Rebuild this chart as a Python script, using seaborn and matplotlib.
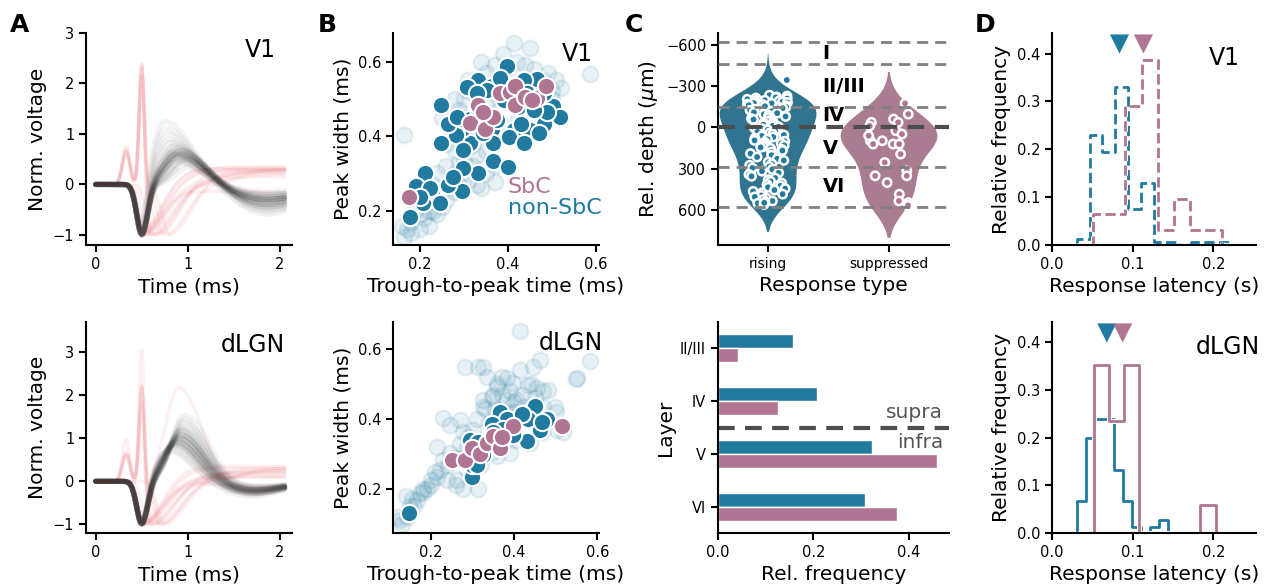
import numpy as np
import pandas as pd
import matplotlib
matplotlib.use("Agg")
import matplotlib.pyplot as plt
import matplotlib.patheffects as pe
import seaborn as sns

# ---------------------------------------------------------------- data
BLUE = "#217aa0"
PINK = "#b07592"

# waveform parameters (per unit): regular-spiking units
v1_gray_peak = [0.48, 0.52, 0.55, 0.58, 0.60, 0.62, 0.64, 0.66, 0.68, 0.70, 0.74, 0.78, 0.84, 0.90, 1.00,
                1.10, 0.45, 0.50, 0.57, 0.65, 0.72, 0.56, 0.61, 0.63, 0.69, 0.76, 1.25, 0.40, 0.54, 0.62]
v1_gray_tpk = [0.88, 0.85, 0.90, 0.86, 0.92, 0.87, 0.95, 0.84, 0.90, 0.93, 0.88, 0.86, 0.82, 0.80, 0.78,
               0.76, 0.98, 0.95, 0.90, 0.85, 0.89, 1.00, 0.87, 0.93, 0.91, 0.84, 0.75, 1.02, 0.97, 0.88]
v1_gray_late = [0.35, 0.30, 0.40, 0.25, 0.45, 0.30, 0.50, 0.20, 0.35, 0.40, 0.30, 0.25, 0.20, 0.30, 0.25,
                0.15, 0.55, 0.45, 0.35, 0.30, 0.40, 0.50, 0.30, 0.35, 0.40, 0.25, 0.20, 0.60, 0.45, 0.30]

dlgn_gray_peak = [0.80, 0.85, 0.92, 1.00, 1.08, 1.18, 1.30, 0.96, 1.04, 1.12, 0.88, 1.22, 0.92, 1.00, 1.08,
                  0.75, 1.38, 1.55, 1.20, 1.04, 0.84, 0.96, 1.12, 0.70, 1.45, 0.92, 1.00, 0.88, 1.10, 1.25]
dlgn_gray_tpk = [0.82, 0.85, 0.88, 0.90, 0.92, 0.93, 0.95, 0.87, 0.90, 0.92, 0.86, 0.94, 0.88, 0.91, 0.93,
                 0.80, 0.96, 0.97, 0.92, 0.89, 0.84, 0.88, 0.91, 0.80, 0.95, 0.87, 0.90, 0.86, 0.92, 0.94]
dlgn_gray_late = [0.20, 0.25, 0.22, 0.18, 0.25, 0.20, 0.15, 0.28, 0.22, 0.20, 0.30, 0.18, 0.25, 0.20, 0.22,
                  0.30, 0.15, 0.12, 0.20, 0.25, 0.28, 0.22, 0.18, 0.35, 0.15, 0.25, 0.22, 0.28, 0.20, 0.18]

# atypical units: spike amplitude, dip time, late plateau, plateau rise time
v1_red_spike = [2.7, 2.2, 2.4, 2.5, 2.3, 0.0, 0.0, 0.0, 0.0, 0.0, 0.0, 0.0, 0.0]
v1_red_dip = [0.62, 0.70, 0.75, 0.65, 0.80, 0.50, 0.50, 0.50, 0.52, 0.50, 0.55, 0.50, 0.60]
v1_red_plateau = [0.25, 0.30, 0.20, 0.15, 0.30, 0.32, 0.25, 0.35, 0.22, 0.30, 0.28, -0.15, 0.30]
v1_red_rise = [1.30, 1.00, 1.50, 1.10, 1.20, 0.72, 0.85, 1.00, 1.20, 0.70, 1.40, 0.95, 1.55]

dlgn_red_spike = [3.5, 2.4, 2.2, 2.3, 2.2, 0.0, 0.0, 0.0, 0.0, 0.0, 0.0, 0.0]
dlgn_red_dip = [0.60, 0.65, 0.70, 0.60, 0.75, 0.50, 0.50, 0.50, 0.50, 0.55, 0.52, 0.70]
dlgn_red_plateau = [0.10, 0.20, 0.30, 0.25, 0.15, 0.30, 0.20, 0.35, 0.25, 0.10, -0.10, 0.30]
dlgn_red_rise = [1.20, 1.00, 1.30, 1.50, 1.10, 0.90, 1.10, 0.80, 1.30, 1.00, 1.20, 1.60]
dlgn_red_broad_peak = [2.2]

# B: trough-to-peak time vs peak width (ms)
v1_all_x = [0.163, 0.414, 0.451, 0.586, 0.16, 0.17, 0.165, 0.18, 0.19, 0.20, 0.21, 0.22, 0.215, 0.23, 0.24,
            0.25, 0.26, 0.27, 0.28, 0.29, 0.30, 0.31, 0.32, 0.33, 0.35, 0.371, 0.26, 0.28, 0.27, 0.29,
            0.30, 0.31, 0.33, 0.34, 0.35, 0.37, 0.42, 0.44, 0.46, 0.48, 0.50, 0.50, 0.48, 0.45, 0.42,
            0.38, 0.36, 0.32, 0.30, 0.31, 0.33, 0.29, 0.24, 0.23, 0.39, 0.40, 0.36, 0.26, 0.25, 0.30,
            0.22, 0.20, 0.18, 0.24, 0.26, 0.28, 0.30, 0.32, 0.34, 0.36, 0.38, 0.40, 0.42, 0.44, 0.46,
            0.47, 0.49, 0.51, 0.52, 0.31, 0.28, 0.27, 0.35, 0.37, 0.34]
v1_all_y = [0.403, 0.651, 0.636, 0.567, 0.16, 0.15, 0.13, 0.17, 0.20, 0.19, 0.18, 0.20, 0.24, 0.20, 0.19,
            0.21, 0.23, 0.28, 0.25, 0.27, 0.30, 0.28, 0.32, 0.27, 0.30, 0.278, 0.32, 0.36, 0.43, 0.47,
            0.50, 0.52, 0.53, 0.60, 0.57, 0.59, 0.60, 0.59, 0.58, 0.55, 0.52, 0.50, 0.48, 0.42, 0.44,
            0.44, 0.40, 0.43, 0.40, 0.37, 0.35, 0.33, 0.30, 0.27, 0.62, 0.58, 0.50, 0.38, 0.45, 0.45,
            0.16, 0.15, 0.14, 0.22, 0.26, 0.30, 0.33, 0.38, 0.42, 0.46, 0.50, 0.52, 0.50, 0.52, 0.54,
            0.50, 0.57, 0.55, 0.53, 0.55, 0.50, 0.41, 0.36, 0.32, 0.26]
v1_nonsbc_x = [0.247, 0.399, 0.332, 0.365, 0.466, 0.436, 0.503, 0.519, 0.481, 0.451, 0.415, 0.364, 0.366,
               0.314, 0.296, 0.281, 0.247, 0.265, 0.313, 0.329, 0.366, 0.400, 0.332, 0.297, 0.296, 0.263,
               0.211, 0.192, 0.177, 0.229, 0.245, 0.208, 0.276, 0.402, 0.436, 0.470, 0.489, 0.422, 0.392,
               0.444, 0.383, 0.352, 0.306, 0.329, 0.376, 0.429, 0.459, 0.344, 0.299, 0.223, 0.200, 0.481,
               0.414, 0.284]
v1_nonsbc_y = [0.484, 0.588, 0.551, 0.535, 0.553, 0.551, 0.482, 0.451, 0.434, 0.417, 0.417, 0.420, 0.381,
               0.383, 0.420, 0.402, 0.383, 0.434, 0.445, 0.479, 0.333, 0.318, 0.302, 0.316, 0.254, 0.269,
               0.301, 0.266, 0.184, 0.238, 0.220, 0.220, 0.291, 0.399, 0.381, 0.408, 0.466, 0.479, 0.497,
               0.515, 0.555, 0.524, 0.533, 0.515, 0.443, 0.434, 0.470, 0.408, 0.363, 0.260, 0.238, 0.515,
               0.533, 0.452]
v1_sbc_x = [0.175, 0.332, 0.314, 0.348, 0.366, 0.344, 0.382, 0.404, 0.417, 0.417, 0.440, 0.466, 0.487, 0.455]
v1_sbc_y = [0.236, 0.485, 0.436, 0.419, 0.452, 0.466, 0.517, 0.519, 0.535, 0.484, 0.506, 0.502, 0.535, 0.497]

dlgn_all_x = [0.414, 0.582, 0.548, 0.282, 0.314, 0.326, 0.382, 0.414, 0.446, 0.462, 0.398, 0.434, 0.454,
              0.482, 0.358, 0.326, 0.346, 0.326, 0.230, 0.246, 0.214, 0.246, 0.230, 0.222, 0.214, 0.190,
              0.174, 0.166, 0.150, 0.142, 0.130, 0.278, 0.314, 0.286, 0.310, 0.278, 0.270, 0.302, 0.422,
              0.470, 0.498, 0.502, 0.518, 0.550, 0.466, 0.438, 0.402, 0.390, 0.346, 0.358, 0.374, 0.390,
              0.406, 0.382, 0.354, 0.286, 0.262, 0.238, 0.334, 0.370, 0.180, 0.200, 0.155, 0.125,
              0.200, 0.210, 0.240, 0.260, 0.270, 0.290, 0.310, 0.330, 0.350, 0.360, 0.370, 0.390, 0.400,
              0.420, 0.440, 0.450, 0.470, 0.500, 0.440, 0.380, 0.340, 0.260, 0.320, 0.180, 0.160, 0.120,
              0.140, 0.400]
dlgn_all_y = [0.652, 0.567, 0.516, 0.550, 0.550, 0.550, 0.517, 0.541, 0.550, 0.569, 0.503, 0.498, 0.488,
              0.483, 0.493, 0.455, 0.464, 0.436, 0.402, 0.383, 0.321, 0.302, 0.283, 0.254, 0.235, 0.200,
              0.188, 0.169, 0.150, 0.121, 0.100, 0.200, 0.200, 0.254, 0.302, 0.364, 0.397, 0.369, 0.436,
              0.436, 0.436, 0.369, 0.364, 0.517, 0.364, 0.331, 0.340, 0.302, 0.307, 0.293, 0.398, 0.379,
              0.455, 0.455, 0.426, 0.321, 0.226, 0.226, 0.520, 0.470, 0.200, 0.225, 0.170, 0.110,
              0.210, 0.250, 0.270, 0.290, 0.330, 0.350, 0.400, 0.430, 0.470, 0.500, 0.520, 0.480, 0.450,
              0.470, 0.500, 0.460, 0.480, 0.420, 0.410, 0.420, 0.390, 0.210, 0.270, 0.190, 0.150, 0.120,
              0.180, 0.420]
dlgn_nonsbc_x = [0.148, 0.299, 0.450, 0.480, 0.462, 0.430, 0.434, 0.366, 0.384, 0.346, 0.398, 0.374, 0.294,
                 0.314, 0.302, 0.326, 0.282, 0.298, 0.418, 0.466, 0.350, 0.310]
dlgn_nonsbc_y = [0.132, 0.234, 0.438, 0.399, 0.368, 0.337, 0.401, 0.421, 0.400, 0.387, 0.354, 0.373, 0.339,
                 0.335, 0.306, 0.296, 0.277, 0.268, 0.416, 0.392, 0.363, 0.268]
dlgn_sbc_x = [0.250, 0.282, 0.300, 0.317, 0.334, 0.350, 0.365, 0.398, 0.516, 0.370]
dlgn_sbc_y = [0.283, 0.283, 0.316, 0.300, 0.333, 0.352, 0.316, 0.380, 0.380, 0.350]

# C: relative depth (um) of units by response type
depth_rising = [-345,
                -235, -228, -222, -218, -214, -210, -205, -200, -198, -193, -190, -186, -182, -178, -175,
                -170, -166, -162, -158, -154, -150, -145, -140, -132, -125,
                -118, -110, -104, -96, -88, -80, -72, -64, -58, -50, -44, -38, -32, -26, -20,
                -12, -5, 3, 10, 18, 25, 32, 40, 48, 55, 62, 70, 78, 86, 94, 100, 108, 115, 122, 130,
                138, 145, 152, 160, 168,
                178, 190, 202, 215, 228, 240, 252, 265, 275, 285, 295, 305,
                318, 330, 342, 355, 368, 380, 392, 405, 415, 425, 435, 445, 455, 465, 475, 485, 495,
                505, 515, 525, 535, 545, 552, 560, 548]
depth_suppressed = [-175, -97, -61, -37, -37, 24, 48, 97, 97, 121, 121, 121, 194, 255, 316, 352, 352, 401,
                    486, 535, 547, 567, -10, 60]
layer_bounds = [-619, -464, -150, 289, 577]
layer_names = ["I", "II/III", "IV", "V", "VI"]
layer_label_depth = [-540, -300, -90, 150, 430]

# C bottom: fraction of units per layer
bar_layers = ["II/III", "IV", "V", "VI"]
bar_rising = [0.158, 0.208, 0.323, 0.307]
bar_suppressed = [0.042, 0.125, 0.458, 0.375]

# D: latency histograms (relative frequency per bin)
v1_rise_edges = [0.031, 0.047, 0.062, 0.078, 0.094, 0.110, 0.126, 0.142, 0.158, 0.173, 0.189, 0.205, 0.221]
v1_rise_freq = [0.013, 0.23, 0.195, 0.33, 0.075, 0.13, 0.007, 0.007, 0.0, 0.007, 0.007, 0.007]
v1_supp_edges = [0.051, 0.071, 0.091, 0.111, 0.131, 0.151, 0.171, 0.191, 0.211]
v1_supp_freq = [0.065, 0.065, 0.29, 0.387, 0.032, 0.097, 0.032, 0.032]
dlgn_rise_edges = [0.031, 0.0423, 0.0536, 0.065, 0.0763, 0.0876, 0.099, 0.110, 0.1216, 0.133, 0.144]
dlgn_rise_freq = [0.067, 0.2, 0.24, 0.24, 0.133, 0.067, 0.013, 0.0, 0.013, 0.027]
dlgn_supp_edges = [0.0517, 0.0705, 0.0894, 0.1083, 0.127, 0.146, 0.165, 0.184, 0.203]
dlgn_supp_freq = [0.353, 0.235, 0.353, 0.0, 0.0, 0.0, 0.0, 0.059]
v1_mean_latency = [0.0837, 0.1134]
dlgn_mean_latency = [0.068, 0.0876]

# ---------------------------------------------------------------- style
sns.set_theme(style="ticks")
plt.rcParams.update({
    "font.family": ["DejaVu Sans"],
    "text.color": "black",
    "axes.linewidth": 1.5,
    "xtick.major.width": 1.5, "ytick.major.width": 1.5,
    "xtick.major.size": 5, "ytick.major.size": 5,
    "xtick.labelsize": 10.5, "ytick.labelsize": 10.5,
    "axes.labelsize": 14.5,
    "xtick.color": "black", "ytick.color": "black",
    "axes.edgecolor": "black", "axes.labelcolor": "black",
})

W, H = 1273, 586
fig = plt.figure(figsize=(W / 100, H / 100), dpi=100)


def add_ax(left, top, right, bottom):
    return fig.add_axes([left / W, 1 - bottom / H, (right - left) / W, (bottom - top) / H])


rows = [(33, 245), (322, 533)]
cols = [(86, 292), (393, 599), (718, 949), (1052, 1256)]
axs = [[add_ax(c[0], r[0], c[1], r[1]) for c in cols] for r in rows]
for row in axs:
    for ax in row:
        sns.despine(ax=ax)

# ---------------------------------------------------------------- A: waveforms
t = np.linspace(0, 2.05, 165)


def bump(c, w):
    return np.exp(-0.5 * ((t - c) / w) ** 2)


def skew_bump(c, wl, wr):
    w = np.where(t < c, wl, wr)
    return np.exp(-0.5 * ((t - c) / w) ** 2)


def regular_traces(peaks, tpks, lates, wr, late_c, late_w):
    frames = []
    for i, (a, tp, lt) in enumerate(zip(peaks, tpks, lates)):
        v = -skew_bump(0.5, 0.055, 0.065) + a * skew_bump(tp, 0.14, wr) - lt * bump(late_c, late_w)
        frames.append(pd.DataFrame({"t": t, "v": v, "unit": i}))
    return pd.concat(frames)


def atypical_traces(spikes, dips, plateaus, rises):
    frames = []
    for i, (s, d, p, r) in enumerate(zip(spikes, dips, plateaus, rises)):
        wl = 0.08 if s > 0 else 0.055
        v = (0.28 * s * bump(0.33, 0.04) + s * bump(0.5, 0.028) - skew_bump(d, wl, 0.22)
             + p / (1 + np.exp(-(t - r) / 0.12)))
        frames.append(pd.DataFrame({"t": t, "v": v, "unit": i}))
    return pd.concat(frames)


wave_sets = [
    (regular_traces(v1_gray_peak, v1_gray_tpk, v1_gray_late, 0.30, 1.85, 0.40),
     atypical_traces(v1_red_spike, v1_red_dip, v1_red_plateau, v1_red_rise)),
    (regular_traces(dlgn_gray_peak, dlgn_gray_tpk, dlgn_gray_late, 0.25, 1.70, 0.35),
     pd.concat([atypical_traces(dlgn_red_spike, dlgn_red_dip, dlgn_red_plateau, dlgn_red_rise),
                regular_traces(dlgn_red_broad_peak, [0.9], [0.3], 0.25, 1.7, 0.35).assign(unit=99)])),
]
for r, (gray, red) in enumerate(wave_sets):
    ax = axs[r][0]
    sns.lineplot(data=red, x="t", y="v", units="unit", estimator=None, color="#e8474f",
                 alpha=0.08, lw=2.5, ax=ax, legend=False)
    sns.lineplot(data=gray, x="t", y="v", units="unit", estimator=None, color="#2a2a2a",
                 alpha=0.055, lw=3.8, ax=ax, legend=False)
    ax.set_xlim(-0.105, 2.13)
    ax.set_xticks([0, 1, 2])
    ax.set_xlabel("Time (ms)")
    ax.set_ylabel("Norm. voltage")
axs[0][0].set_ylim(-1.2, 3.0)
axs[0][0].set_yticks([-1, 0, 1, 2, 3])
axs[1][0].set_ylim(-1.2, 3.7)
axs[1][0].set_yticks([-1, 0, 1, 2, 3])

# ---------------------------------------------------------------- B: scatter
scatter_sets = [
    (v1_all_x, v1_all_y, v1_nonsbc_x, v1_nonsbc_y, v1_sbc_x, v1_sbc_y, (0.139, 0.607), (0.108, 0.677)),
    (dlgn_all_x, dlgn_all_y, dlgn_nonsbc_x, dlgn_nonsbc_y, dlgn_sbc_x, dlgn_sbc_y, (0.109, 0.604), (0.074, 0.678)),
]
for r, (ax_, ay_, nx, ny, sx, sy, xl, yl) in enumerate(scatter_sets):
    ax = axs[r][1]
    sns.scatterplot(x=ax_, y=ay_, color=BLUE, alpha=0.1, s=130, edgecolor=BLUE, linewidth=1.6, ax=ax)
    sns.scatterplot(x=nx, y=ny, color=BLUE, s=155, edgecolor="white", linewidth=1.5, ax=ax)
    sns.scatterplot(x=sx, y=sy, color=PINK, s=155, edgecolor="white", linewidth=1.5, ax=ax)
    ax.set_xlim(*xl)
    ax.set_ylim(*yl)
    ax.set_xticks([0.2, 0.4, 0.6])
    ax.set_yticks([0.2, 0.4, 0.6])
    ax.set_xlabel("Trough-to-peak time (ms)")
    ax.set_ylabel("Peak width (ms)")
axs[0][1].text(0.558, 0.274, "SbC", color=PINK, fontsize=16, transform=axs[0][1].transAxes, va="center")
axs[0][1].text(0.558, 0.175, "non-SbC", color=BLUE, fontsize=16, transform=axs[0][1].transAxes, va="center")

# ---------------------------------------------------------------- C: depth violins
ax = axs[0][2]
depth_df = pd.DataFrame({
    "type": ["rising"] * len(depth_rising) + ["suppressed"] * len(depth_suppressed),
    "depth": depth_rising + depth_suppressed,
})
pal = {"rising": BLUE, "suppressed": PINK}
sns.violinplot(data=depth_df, x="type", y="depth", hue="type", palette=pal, inner=None,
               linewidth=0, legend=False, ax=ax)
np.random.seed(4)
sns.stripplot(data=depth_df, x="type", y="depth", hue="type", palette=pal, jitter=0.17, size=6,
              edgecolor="white", linewidth=1.8, legend=False, ax=ax, zorder=3)
for b in layer_bounds:
    ax.axhline(b, color="#808080", lw=2, ls=(0, (4, 2.5)), zorder=4)
ax.axhline(0, color="#4d4d4d", lw=3, ls=(0, (4, 2.5)), zorder=4)
for name, d in zip(layer_names, layer_label_depth):
    ax.text(0.455, d, name, fontsize=14, fontweight="semibold", va="center", ha="left", zorder=5)
ax.set_xlim(-0.41, 1.5)
ax.set_ylim(855, -687)
ax.set_yticks([-600, -300, 0, 300, 600])
ax.tick_params(axis="x", labelsize=10)
ax.set_xlabel("Response type")
ax.set_ylabel(r"Rel. depth ($\mu$m)")

# C bottom: layer distribution
ax = axs[1][2]
bar_df = pd.DataFrame({
    "layer": bar_layers * 2,
    "type": ["rising"] * 4 + ["suppressed"] * 4,
    "freq": bar_rising + bar_suppressed,
})
sns.barplot(data=bar_df, y="layer", x="freq", hue="type", palette=pal, orient="h", width=0.53,
            saturation=1, legend=False, ax=ax)
ax.axhline(1.5, color="#4d4d4d", lw=3, ls=(0, (4, 2.5)), clip_on=False)
ax.text(0.472, 1.22, "supra", color="#555555", fontsize=14.5, ha="right", va="center")
ax.text(0.472, 1.78, "infra", color="#555555", fontsize=14.5, ha="right", va="center")
ax.set_xlim(0, 0.484)
ax.set_ylim(3.5, -0.5)
ax.set_xticks([0.0, 0.2, 0.4])
ax.set_xlabel("Rel. frequency")
ax.set_ylabel("Layer")

# ---------------------------------------------------------------- D: latency histograms
halo = [pe.Stroke(linewidth=3.6, foreground="white"), pe.Normal()]
hist_sets = [
    (v1_rise_edges, v1_rise_freq, v1_supp_edges, v1_supp_freq, v1_mean_latency, "--"),
    (dlgn_rise_edges, dlgn_rise_freq, dlgn_supp_edges, dlgn_supp_freq, dlgn_mean_latency, "-"),
]
for r, (re_, rf, se, sf, means, ls) in enumerate(hist_sets):
    ax = axs[r][3]
    for edges, freq, col in [(re_, rf, BLUE), (se, sf, PINK)]:
        w = edges[1] - edges[0]
        padded_edges = [edges[0] - w] + list(edges) + [edges[-1] + w]
        padded_freq = [0.0] + list(freq) + [0.0]
        centers = [(a + b) / 2 for a, b in zip(padded_edges[:-1], padded_edges[1:])]
        hdf = pd.DataFrame({"latency": centers, "freq": padded_freq})
        sns.histplot(data=hdf, x="latency", weights="freq", bins=padded_edges, element="step",
                     fill=False, color=col, linewidth=2, linestyle=ls, path_effects=halo, ax=ax)
    sns.scatterplot(x=means, y=[0.42, 0.42], hue=["rising", "suppressed"], palette=pal, marker="v",
                    s=190, linewidth=0, legend=False, ax=ax, clip_on=False, zorder=5)
    ax.set_xlim(0, 0.253)
    ax.set_ylim(0, 0.443)
    ax.set_xticks([0.0, 0.1, 0.2])
    ax.set_yticks([0.0, 0.1, 0.2, 0.3, 0.4])
    ax.set_xlabel("Response latency (s)")
    ax.set_ylabel("Relative frequency")

# ---------------------------------------------------------------- area labels and panel letters
area_labels = [
    (axs[0][0], "V1", 0.92, 0.92), (axs[1][0], "dLGN", 0.966, 0.89),
    (axs[0][1], "V1", 0.97, 0.90), (axs[1][1], "dLGN", 1.02, 0.90),
    (axs[0][3], "V1", 0.92, 0.88), (axs[1][3], "dLGN", 1.02, 0.88),
]
for ax, txt, x, y in area_labels:
    ax.text(x, y, txt, transform=ax.transAxes, ha="right", va="center", fontsize=17)

for letter, x in zip("ABCD", [10, 318, 625, 975]):
    fig.text(x / W, 1 - 25 / H, letter, fontsize=18, fontweight="bold", ha="left", va="center")

fig.savefig("out.png", dpi=100)
